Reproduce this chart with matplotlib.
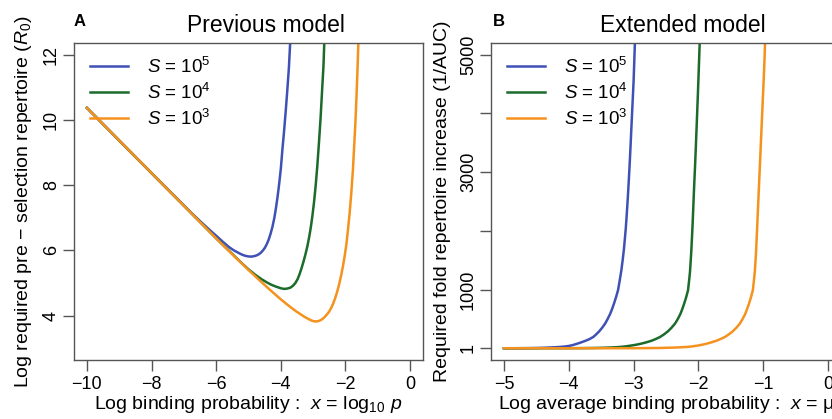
import numpy as np
import matplotlib.pyplot as plt

plt.rcParams['font.family'] = ['Liberation Sans', 'DejaVu Sans']
plt.rcParams['mathtext.fontset'] = 'custom'
plt.rcParams['mathtext.rm'] = 'Liberation Sans'
plt.rcParams['mathtext.it'] = 'Liberation Sans:italic'

# couleurs des trois tailles S
bleu = '#3f51b5'
vert = '#1b6b2b'
orange = '#f5921e'
gris = '#555555'

# --- panneau A : modele precedent ---
xA_s5 = [-10, -9, -8, -7, -6.75, -6.5, -6.25, -6.0, -5.8, -5.6, -5.45, -5.3, -5.2, -5.1,
         -5.0, -4.9, -4.8, -4.72, -4.64, -4.57, -4.5, -4.44, -4.38, -4.32, -4.26, -4.2,
         -4.15, -4.1, -4.05, -4.0, -3.95, -3.9, -3.85, -3.8, -3.75, -3.71]
yA_s5 = [10.37, 9.37, 8.37, 7.38, 7.13, 6.9, 6.67, 6.45, 6.27, 6.1, 6.0, 5.92, 5.87, 5.835,
         5.815, 5.81, 5.83, 5.86, 5.91, 5.98, 6.07, 6.18, 6.32, 6.5, 6.72, 7.0,
         7.3, 7.65, 8.05, 8.5, 9.1, 9.65, 10.25, 10.9, 11.6, 12.37]

xA_s4 = [-10, -9, -8, -7, -6, -5.5, -5.2, -5.0, -4.8, -4.6, -4.45, -4.3, -4.15, -4.0,
         -3.9, -3.8, -3.7, -3.62, -3.55, -3.48, -3.42, -3.36, -3.3, -3.24, -3.18, -3.12,
         -3.07, -3.02, -2.97, -2.92, -2.87, -2.82, -2.77, -2.72, -2.68, -2.655]
yA_s4 = [10.37, 9.37, 8.37, 7.37, 6.37, 5.89, 5.6, 5.42, 5.26, 5.12, 5.03, 4.95, 4.89, 4.84,
         4.82, 4.83, 4.86, 4.92, 5.0, 5.12, 5.27, 5.45, 5.65, 5.87, 6.12, 6.42,
         6.72, 7.08, 7.5, 8.0, 8.6, 9.3, 10.05, 10.95, 11.65, 12.37]

xA_s3 = [-10, -9, -8, -7, -6, -5.5, -5.0, -4.6, -4.3, -4.0, -3.75, -3.55, -3.4, -3.27,
         -3.15, -3.05, -2.97, -2.88, -2.8, -2.72, -2.64, -2.57, -2.5, -2.44, -2.38,
         -2.32, -2.26, -2.2, -2.14, -2.08, -2.02, -1.97, -1.92, -1.87, -1.82, -1.77,
         -1.73, -1.69, -1.655, -1.625, -1.6]
yA_s3 = [10.37, 9.37, 8.37, 7.37, 6.37, 5.88, 5.40, 5.03, 4.76, 4.50, 4.30, 4.15, 4.05, 3.965,
         3.90, 3.85, 3.825, 3.825, 3.845, 3.89, 3.96, 4.04, 4.13, 4.24, 4.37,
         4.53, 4.72, 4.94, 5.2, 5.5, 5.85, 6.2, 6.65, 7.15, 7.75, 8.45,
         9.2, 9.95, 10.8, 11.6, 12.37]

# --- panneau B : modele etendu ---
xB_s5 = [-5.0, -4.8, -4.6, -4.45, -4.3, -4.22, -4.14, -4.07, -4.0, -3.94, -3.88, -3.82,
         -3.75, -3.68, -3.62, -3.575, -3.53, -3.485, -3.44, -3.4, -3.36, -3.33, -3.3,
         -3.27, -3.24, -3.215, -3.19, -3.17, -3.15, -3.135, -3.12, -3.105, -3.09,
         -3.075, -3.06, -3.045, -3.03, -3.015, -3.0, -2.99, -2.98]
yB_s5 = [1, 2, 4, 7, 13, 17.5, 23, 30, 40, 55, 75, 97,
         125, 157, 195, 240, 290, 350, 420, 500, 590, 675, 770,
         875, 990, 1150, 1320, 1490, 1680, 1860, 2050, 2290, 2550,
         2840, 3150, 3490, 3850, 4200, 4550, 4870, 5200]

xB_s4 = [-5.0, -4.5, -4.0, -3.8, -3.6, -3.45, -3.33, -3.21, -3.13, -3.05, -2.965, -2.88,
         -2.8, -2.72, -2.655, -2.59, -2.53, -2.47, -2.415, -2.36, -2.32, -2.28, -2.25,
         -2.22, -2.19, -2.16, -2.145, -2.13, -2.12, -2.11, -2.1, -2.09, -2.08, -2.07,
         -2.06, -2.05, -2.04, -2.03, -2.0175, -2.005, -1.9925, -1.98]
yB_s4 = [1, 1.3, 2, 3.5, 6, 10, 15, 23, 32, 45, 60, 80,
         103, 130, 160, 194, 238, 290, 350, 422, 495, 580, 665,
         760, 865, 990, 1140, 1300, 1470, 1650, 1870, 2100, 2370, 2650,
         2900, 3150, 3420, 3700, 4060, 4420, 4810, 5200]

xB_s3 = [-5.0, -4.0, -3.0, -2.8, -2.6, -2.45, -2.32, -2.18, -2.1, -2.02, -1.945, -1.87,
         -1.795, -1.72, -1.655, -1.59, -1.53, -1.47, -1.415, -1.36, -1.32, -1.28, -1.25,
         -1.22, -1.19, -1.16, -1.145, -1.13, -1.12, -1.11, -1.1, -1.09, -1.08, -1.07,
         -1.06, -1.05, -1.04, -1.03, -1.02, -1.01, -1.0, -0.99, -0.98, -0.972]
yB_s3 = [1, 1.1, 1.8, 3.5, 6, 10, 15, 23, 32, 45, 60, 80,
         103, 130, 160, 194, 238, 290, 350, 422, 495, 580, 665,
         760, 865, 990, 1140, 1300, 1470, 1650, 1900, 2150, 2400, 2650,
         2900, 3150, 3400, 3650, 3900, 4150, 4400, 4650, 4920, 5200]

etiquettes = [r'$S$ = 10$^5$', r'$S$ = 10$^4$', r'$S$ = 10$^3$']

W, H = 832, 419
fig = plt.figure(figsize=(W / 100, H / 100), dpi=100)
axA = fig.add_axes([74 / W, 59 / H, 349 / W, 317 / H])
axB = fig.add_axes([491 / W, 59 / H, 350 / W, 317 / H])

lw = 1.8
axA.plot(xA_s5, yA_s5, color=bleu, lw=lw, label=etiquettes[0])
axA.plot(xA_s4, yA_s4, color=vert, lw=lw, label=etiquettes[1])
axA.plot(xA_s3, yA_s3, color=orange, lw=lw, label=etiquettes[2])

axB.plot(xB_s5, yB_s5, color=bleu, lw=lw, label=etiquettes[0])
axB.plot(xB_s4, yB_s4, color=vert, lw=lw, label=etiquettes[1])
axB.plot(xB_s3, yB_s3, color=orange, lw=lw, label=etiquettes[2])

axA.set_xlim(-10.4, 0.4)
axA.set_ylim(2.64, 12.36)
axA.set_xticks([-10, -8, -6, -4, -2, 0])
axA.set_yticks([4, 6, 8, 10, 12])

axB.set_xlim(-5.2, 0.2)
axB.set_ylim(-199, 5200)
axB.set_xticks([-5, -4, -3, -2, -1, 0])
axB.set_yticks([1, 1000, 2000, 3000, 4000, 5000])
axB.set_yticklabels(['1', '1000', '', '3000', '', '5000'])

for ax in (axA, axB):
    for s in ax.spines.values():
        s.set_color(gris)
        s.set_linewidth(1.0)
    ax.tick_params(direction='out', length=8, width=1, color=gris, labelsize=13)
    ax.tick_params(axis='x', pad=3.5)
    ax.tick_params(axis='y', pad=2)
    for lab in ax.get_yticklabels():
        lab.set_rotation(90)
        lab.set_va('center')
    ax.legend(loc='upper left', frameon=False, fontsize=13.5, handlelength=2.0,
              handletextpad=1.0, labelspacing=0.31, borderaxespad=0, borderpad=0,
              bbox_to_anchor=(0.047, 0.957))

axA.set_xlabel(r'Log binding probability :  $x$ = log$_{\mathrm{10}}$ $p$', fontsize=14)
axA.xaxis.set_label_coords(0.5, -44 / 317)
axA.xaxis.label.set_va('center')
axA.set_ylabel(r'Log required pre − selection repertoire ($R_0$)', fontsize=14)
axA.yaxis.set_label_coords(-50 / 349, 0.5)
axA.yaxis.label.set_va('center')

axB.set_xlabel(r'Log average binding probability :  $x$ = μ', fontsize=14)
axB.xaxis.set_label_coords(0.5, -44 / 317)
axB.xaxis.label.set_va('center')
axB.set_ylabel('Required fold repertoire increase (1/AUC)', fontsize=14)
axB.yaxis.set_label_coords(-48 / 350, 0.5)
axB.yaxis.label.set_va('center')

fig.text(266 / W, 1 - 25 / H, 'Previous model', ha='center', va='center', fontsize=16.5)
fig.text(683 / W, 1 - 25 / H, 'Extended model', ha='center', va='center', fontsize=16.5)
fig.text(74 / W, 1 - 21 / H, 'A', ha='left', va='center', fontsize=12, fontweight='bold')
fig.text(493 / W, 1 - 21 / H, 'B', ha='left', va='center', fontsize=12, fontweight='bold')

fig.savefig('out.png', dpi=100)
